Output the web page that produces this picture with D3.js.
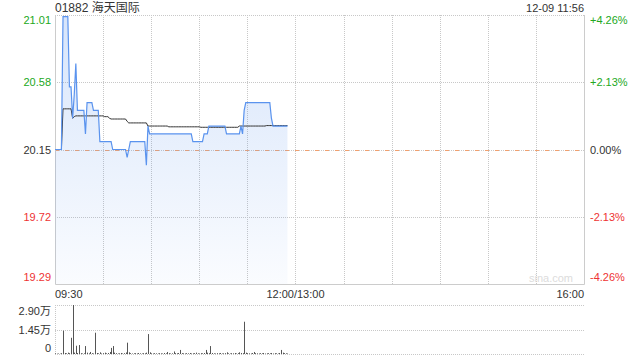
<!DOCTYPE html>
<html>
<head>
<meta charset="utf-8">
<script src="https://cdn.jsdelivr.net/npm/d3@7"></script>
<style>
  body { margin: 0; background: #fff; }
  text { font-family: "Liberation Sans", Arial, "Noto Sans CJK SC", sans-serif; }
</style>
</head>
<body>
<div id="chart"></div>
<script>
// minute-by-minute data from 09:30 (index 0) to 11:56
const title = "01882 海天国际"
const stamp = "12-09 11:56"
const prevClose = 20.15

const price = [
  20.15, 20.15, 20.15, 20.15, 20.15, 21.00, 21.00, 21.00, 21.00, 20.55,
  20.55, 20.35, 20.50, 20.70, 20.40, 20.40, 20.40, 20.40, 20.40, 20.25,
  20.45, 20.45, 20.45, 20.45, 20.40, 20.40, 20.40, 20.40, 20.20, 20.20,
  20.20, 20.20, 20.20, 20.20, 20.20, 20.20, 20.15, 20.15, 20.15, 20.15,
  20.15, 20.15, 20.15, 20.15, 20.15, 20.10, 20.15, 20.20, 20.20, 20.20,
  20.20, 20.20, 20.20, 20.20, 20.20, 20.20, 20.20, 20.05, 20.30, 20.25,
  20.25, 20.25, 20.25, 20.25, 20.25, 20.25, 20.25, 20.25, 20.25, 20.25,
  20.25, 20.25, 20.25, 20.25, 20.25, 20.25, 20.25, 20.25, 20.25, 20.25,
  20.25, 20.25, 20.25, 20.25, 20.25, 20.25, 20.20, 20.20, 20.20, 20.20,
  20.20, 20.20, 20.20, 20.25, 20.25, 20.25, 20.30, 20.30, 20.30, 20.30,
  20.30, 20.30, 20.30, 20.30, 20.30, 20.30, 20.30, 20.25, 20.25, 20.25,
  20.25, 20.25, 20.25, 20.25, 20.25, 20.25, 20.30, 20.25, 20.40, 20.45,
  20.45, 20.45, 20.45, 20.45, 20.45, 20.45, 20.45, 20.45, 20.45, 20.45,
  20.45, 20.45, 20.45, 20.45, 20.45, 20.35, 20.30, 20.30, 20.30, 20.30,
  20.30, 20.30, 20.30, 20.30, 20.30, 20.30
]

const avgPrice = [
  20.15, 20.15, 20.15, 20.15, 20.15, 20.41, 20.41, 20.41, 20.41, 20.41,
  20.41, 20.35, 20.36, 20.365, 20.365, 20.365, 20.365, 20.365, 20.365, 20.365,
  20.365, 20.365, 20.365, 20.365, 20.365, 20.365, 20.365, 20.365, 20.365, 20.365,
  20.365, 20.36, 20.36, 20.36, 20.35, 20.345, 20.345, 20.345, 20.345, 20.345,
  20.345, 20.345, 20.345, 20.345, 20.345, 20.33, 20.32, 20.32, 20.32, 20.32,
  20.32, 20.32, 20.32, 20.32, 20.32, 20.32, 20.32, 20.32, 20.30, 20.30,
  20.30, 20.30, 20.30, 20.30, 20.30, 20.30, 20.30, 20.30, 20.30, 20.30,
  20.30, 20.295, 20.295, 20.295, 20.295, 20.295, 20.295, 20.295, 20.295, 20.295,
  20.295, 20.295, 20.295, 20.295, 20.295, 20.295, 20.295, 20.295, 20.295, 20.295,
  20.295, 20.292, 20.292, 20.292, 20.292, 20.292, 20.292, 20.292, 20.292, 20.292,
  20.292, 20.292, 20.292, 20.292, 20.292, 20.292, 20.292, 20.292, 20.292, 20.292,
  20.292, 20.292, 20.292, 20.292, 20.292, 20.30, 20.30, 20.30, 20.30, 20.30,
  20.30, 20.30, 20.30, 20.30, 20.30, 20.30, 20.30, 20.30, 20.30, 20.30,
  20.30, 20.30, 20.303, 20.303, 20.303, 20.303, 20.303, 20.303, 20.303, 20.303,
  20.303, 20.303, 20.303, 20.303, 20.303, 20.303
]

// volume in 万 shares
const volume = [
  0.04, 0.02, 0.03, 0.02, 0.05, 1.38, 0.06, 0.04, 0.08, 0.05,
  0.96, 2.90, 0.08, 0.49, 0.06, 0.53, 0.05, 0.03, 0.04, 0.47,
  0.08, 0.04, 0.12, 0.05, 0.03, 1.26, 0.06, 0.04, 0.10, 0.03,
  0.05, 0.08, 0.04, 0.06, 0.12, 0.36, 0.47, 0.08, 0.05, 0.03,
  0.04, 0.06, 0.03, 0.05, 0.09, 0.67, 0.10, 0.05, 0.03, 0.04,
  0.05, 0.03, 0.06, 0.04, 0.03, 0.05, 0.04, 0.08, 1.18, 0.10,
  0.04, 0.03, 0.05, 0.04, 0.03, 0.05, 0.04, 0.03, 0.06, 0.04,
  0.12, 0.05, 0.03, 0.04, 0.15, 0.05, 0.04, 0.06, 0.24, 0.05,
  0.04, 0.03, 0.05, 0.04, 0.06, 0.03, 0.04, 0.05, 0.08, 0.04,
  0.03, 0.05, 0.04, 0.06, 0.24, 0.08, 0.05, 0.47, 0.06, 0.04,
  0.03, 0.05, 0.04, 0.06, 0.03, 0.04, 0.05, 0.10, 0.04, 0.03,
  0.05, 0.04, 0.06, 0.03, 0.05, 0.10, 0.06, 0.05, 1.91, 0.08,
  0.05, 0.04, 0.03, 0.06, 0.12, 0.05, 0.04, 0.03, 0.05, 0.04,
  0.06, 0.03, 0.04, 0.05, 0.04, 0.06, 0.03, 0.05, 0.04, 0.03,
  0.06, 0.24, 0.08, 0.05, 0.04, 0.03
]

const priceTicks = [21.01, 20.58, 20.15, 19.72, 19.29]
const pctTicks = ["+4.26%", "+2.13%", "0.00%", "-2.13%", "-4.26%"]
const volTicks = [2.90, 1.45, 0]
const volTickLabels = ["2.90万", "1.45万", "0"]
const timeTicks = [0, 150, 330]
const timeLabels = ["09:30", "12:00/13:00", "16:00"]
const gridMinutes = [30, 60, 90, 120, 150, 180, 210, 240, 270, 300]

const W = 640, H = 360
const plotL = 55, plotR = 584
const plotT = 15, plotB = 284
const volT = 305, volB = 354

const green = "#22a822", red = "#ee3333", grid = "#c8c8c8"

const svg = d3.select("#chart").append("svg")
    .attr("width", W)
    .attr("height", H)

const x = d3.scaleLinear().domain([0, 330]).range([plotL, plotR])
const y = d3.scaleLinear().domain([19.29, 21.01]).range([plotB, plotT])
const yv = d3.scaleLinear().domain([0, 2.90]).range([volB, volT])

function tickColor(v) {
    if (v > prevClose + 0.001) return green
    if (v < prevClose - 0.001) return red
    return "#333"
}

// gradient for area
const defs = svg.append("defs")
const grad = defs.append("linearGradient")
    .attr("id", "fillGrad")
    .attr("x1", 0).attr("y1", 0).attr("x2", 0).attr("y2", 1)
grad.append("stop").attr("offset", "0%").attr("stop-color", "#5a93ee").attr("stop-opacity", 0.24)
grad.append("stop").attr("offset", "100%").attr("stop-color", "#5a93ee").attr("stop-opacity", 0.03)

// horizontal grid
svg.append("g")
    .selectAll("line")
    .data(priceTicks.filter(function (d) { return d != 19.29 }))
    .enter()
    .append("line")
    .attr("x1", plotL).attr("x2", plotR)
    .attr("y1", function (d) { return Math.round(y(d)) + 0.5 })
    .attr("y2", function (d) { return Math.round(y(d)) + 0.5 })
    .attr("stroke", grid)
    .attr("stroke-dasharray", "1,1")

// vertical grid
svg.append("g")
    .selectAll("line")
    .data(gridMinutes)
    .enter()
    .append("line")
    .attr("x1", function (d) { return Math.round(x(d)) + 0.5 })
    .attr("x2", function (d) { return Math.round(x(d)) + 0.5 })
    .attr("y1", plotT).attr("y2", plotB)
    .attr("stroke", grid)
    .attr("stroke-dasharray", "1,1")

// zero line
svg.append("line")
    .attr("x1", plotL).attr("x2", plotR)
    .attr("y1", Math.round(y(prevClose)) + 0.5)
    .attr("y2", Math.round(y(prevClose)) + 0.5)
    .attr("stroke", "#f0a070")
    .attr("stroke-dasharray", "4,6")

// borders
svg.append("path")
    .attr("d", "M" + (plotL + 0.5) + "," + plotT + "V" + (plotB + 0.5) + "H" + (plotR + 0.5) + "V" + plotT)
    .attr("fill", "none")
    .attr("stroke", "#ccc")

// watermark
svg.append("text")
    .attr("x", 573).attr("y", 282)
    .attr("text-anchor", "end")
    .attr("font-size", 11)
    .attr("fill", "#dcdcdc")
    .text("sina.com")

// area + price line
const area = d3.area()
    .x(function (d, i) { return x(i) })
    .y0(plotB)
    .y1(function (d) { return y(d) })
svg.append("path")
    .datum(price)
    .attr("d", area)
    .attr("fill", "url(#fillGrad)")

const line = d3.line()
    .x(function (d, i) { return x(i) })
    .y(function (d) { return y(d) })
svg.append("path")
    .datum(avgPrice)
    .attr("d", line)
    .attr("fill", "none")
    .attr("stroke", "#333")
    .attr("stroke-width", 1)
svg.append("path")
    .datum(price)
    .attr("d", line)
    .attr("fill", "none")
    .attr("stroke", "#5a93ee")
    .attr("stroke-width", 1.2)

// left price labels
svg.append("g")
    .selectAll("text")
    .data(priceTicks)
    .enter()
    .append("text")
    .attr("x", 51)
    .attr("y", function (d, i) {
        if (i == 0) return y(d) + 9
        if (i == priceTicks.length - 1) return y(d) - 3
        return y(d) + 4
    })
    .attr("text-anchor", "end")
    .attr("font-size", 11)
    .attr("fill", function (d) { return tickColor(d) })
    .text(function (d) { return d.toFixed(2) })

// right percent labels
svg.append("g")
    .selectAll("text")
    .data(pctTicks)
    .enter()
    .append("text")
    .attr("x", 590)
    .attr("y", function (d, i) {
        let v = priceTicks[i]
        if (i == 0) return y(v) + 9
        if (i == priceTicks.length - 1) return y(v) - 3
        return y(v) + 4
    })
    .attr("font-size", 11)
    .attr("fill", function (d, i) { return tickColor(priceTicks[i]) })
    .text(function (d) { return d })

// title + time stamp
svg.append("text")
    .attr("x", 55).attr("y", 12)
    .attr("font-size", 12)
    .attr("fill", "#333")
    .text(title)
svg.append("text")
    .attr("x", plotR).attr("y", 12)
    .attr("text-anchor", "end")
    .attr("font-size", 11)
    .attr("fill", "#333")
    .text(stamp)

// time labels
svg.append("g")
    .selectAll("text")
    .data(timeTicks)
    .enter()
    .append("text")
    .attr("x", function (d) { return x(d) })
    .attr("y", 298)
    .attr("text-anchor", function (d, i) { return i == 0 ? "start" : (i == timeTicks.length - 1 ? "end" : "middle") })
    .attr("font-size", 11)
    .attr("fill", "#333")
    .text(function (d, i) { return timeLabels[i] })

// volume panel grid
svg.append("g")
    .selectAll("line")
    .data(volTicks)
    .enter()
    .append("line")
    .attr("x1", plotL).attr("x2", plotR)
    .attr("y1", function (d) { return Math.round(yv(d)) + 0.5 })
    .attr("y2", function (d) { return Math.round(yv(d)) + 0.5 })
    .attr("stroke", grid)
    .attr("stroke-dasharray", "1,1")
svg.append("line")
    .attr("x1", plotL + 0.5).attr("x2", plotL + 0.5)
    .attr("y1", volT).attr("y2", volB)
    .attr("stroke", grid)
    .attr("stroke-dasharray", "1,1")

svg.append("g")
    .selectAll("text")
    .data(volTicks)
    .enter()
    .append("text")
    .attr("x", 51)
    .attr("y", function (d, i) {
        if (i == 0) return yv(d) + 10
        if (i == volTicks.length - 1) return yv(d) - 2
        return yv(d) + 4
    })
    .attr("text-anchor", "end")
    .attr("font-size", 11)
    .attr("fill", "#333")
    .text(function (d, i) { return volTickLabels[i] })

// volume bars
svg.append("g")
    .selectAll("rect")
    .data(volume)
    .enter()
    .append("rect")
    .attr("x", function (d, i) { return Math.round(x(i)) })
    .attr("width", 1)
    .attr("y", function (d) { return yv(d) })
    .attr("height", function (d) { return volB - yv(d) })
    .attr("fill", "#555")
</script>
</body>
</html>
